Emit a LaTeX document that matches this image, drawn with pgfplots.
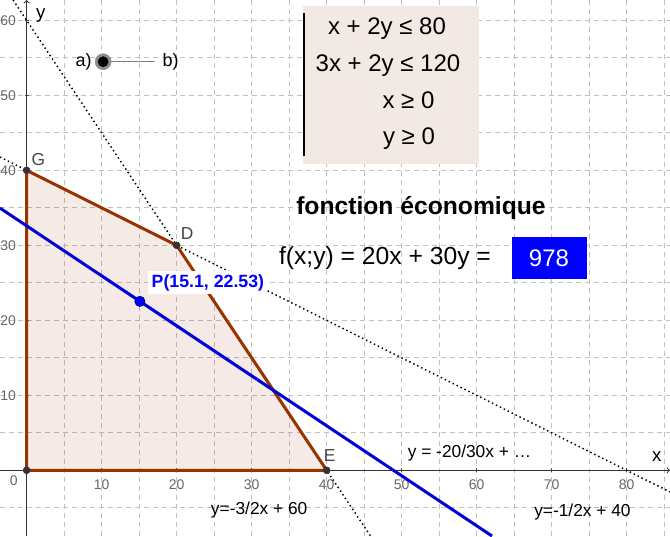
\documentclass[border=0pt]{standalone}
\usepackage{pgfplots}
\pgfplotsset{compat=1.18}
\usepackage{fontspec}
\setmainfont{Liberation Sans}
\definecolor{ggbrown}{RGB}{153,51,0}
\definecolor{ggblue}{RGB}{0,0,210}
\definecolor{gridc}{RGB}{192,192,192}
\definecolor{boxbg}{RGB}{242,232,228}
\definecolor{ptgray}{RGB}{51,51,51}
\definecolor{lblgray}{RGB}{68,68,68}
\begin{document}
\begin{tikzpicture}
\begin{axis}[
  scale only axis, width=502.5pt, height=402pt,
  xmin=-3.55, xmax=85.77, ymin=-8.76, ymax=62.71,
  axis lines=middle,
  axis line style={black!80, line width=0.75pt, ->},
  xtick={10,20,...,80}, ytick={10,20,...,60},
  minor xtick={-5,5,15,...,85}, minor ytick={-5,5,15,...,55},
  grid=both,
  major grid style={gridc, line width=0.75pt, dash pattern=on 3.75pt off 3pt},
  minor grid style={gridc, line width=0.75pt, dash pattern=on 3.75pt off 3pt},
  tick align=center, major tick length=3pt, minor tick length=0pt,
  tick style={black!70, line width=0.6pt},
  /pgf/number format/assume math mode=true,
  ticklabel style={font=\fontsize{10.5}{12}\selectfont, text=black!60},
  xticklabel style={anchor=north, inner sep=0pt, yshift=-5.5pt},
  yticklabel style={anchor=east, inner sep=0pt, xshift=-6.3pt},
  clip=true,
]
% feasible polygon
\addplot[draw=none, fill=ggbrown, fill opacity=0.1] coordinates {(0,0) (0,40) (20,30) (40,0)} -- cycle;
% dotted constraint lines
\addplot[black, line width=1.1pt, dash pattern=on 1.1pt off 2.2pt] coordinates {(-3.55,41.775) (85.77,-2.885)};
\addplot[black, line width=1.1pt, dash pattern=on 1.1pt off 2.2pt] coordinates {(-1.81,62.71) (45.84,-8.76)};
% polygon edges
\addplot[ggbrown, line width=2.25pt] coordinates {(0,0) (0,40) (20,30) (40,0) (0,0)};
% iso-profit line
\addplot[ggblue, line width=2.25pt] coordinates {(-3.55,34.967) (62.04,-8.76)};
% vertices
\addplot[only marks, mark=*, mark size=2.6pt, mark options={fill=ptgray, draw=ptgray}] coordinates {(0,0) (0,40) (20,30) (40,0)};
% point P
\addplot[only marks, mark=*, mark size=3.8pt, mark options={fill=blue, draw=blue!60!black, line width=0.6pt}] coordinates {(15.1,22.53)};
% slider
\addplot[black!50, line width=0.75pt] coordinates {(10.2,54.48) (17.1,54.48)};
\addplot[only marks, mark=*, mark size=6pt, mark options={fill=black!45, draw=black!45}] coordinates {(10.2,54.48)};
\addplot[only marks, mark=*, mark size=3.8pt, mark options={fill=black, draw=black}] coordinates {(10.2,54.48)};
\node[font=\fontsize{13.5}{15}\selectfont] at (axis cs:7.6,54.4) {a)};
\node[font=\fontsize{13.5}{15}\selectfont] at (axis cs:19.2,54.4) {b)};
% axis names
\node[font=\fontsize{14}{16}\selectfont] at (axis cs:84.0,1.8) {x};
\node[font=\fontsize{14}{16}\selectfont] at (axis cs:1.9,60.7) {y};
\node[font=\fontsize{10.5}{12}\selectfont, text=black!60] at (axis cs:-1.7,-1.43) {0};
% point labels
\node[font=\fontsize{13}{15}\selectfont, text=lblgray] at (axis cs:1.57,41.5) {G};
\node[font=\fontsize{13}{15}\selectfont, text=lblgray] at (axis cs:21.4,31.6) {D};
\node[font=\fontsize{13}{15}\selectfont, text=lblgray] at (axis cs:40.4,2.0) {E};
\node[fill=white, inner sep=2.5pt, font=\bfseries\fontsize{13.3}{15}\selectfont, text=blue] at (axis cs:24.17,25.0) {P(15.1, 22.53)};
% system box
\fill[boxbg] (axis cs:36.8,61.9) rectangle (axis cs:60.35,40.9);
\draw[black, line width=1.8pt] (axis cs:36.97,60.97) -- (axis cs:36.97,41.9);
\node[font=\fontsize{18}{20}\selectfont] at (axis cs:48.04,58.95) {x + 2y ≤ 80};
\node[font=\fontsize{18}{20}\selectfont] at (axis cs:48.17,53.95) {3x + 2y ≤ 120};
\node[font=\fontsize{18}{20}\selectfont] at (axis cs:50.9,49.37) {x ≥ 0};
\node[font=\fontsize{18}{20}\selectfont] at (axis cs:50.97,44.2) {y ≥ 0};
% objective
\node[font=\bfseries\fontsize{18.5}{20}\selectfont] at (axis cs:52.57,34.95) {fonction économique};
\node[font=\fontsize{18.5}{20}\selectfont] at (axis cs:47.77,28.3) {f(x;y) = 20x + 30y =};
\fill[blue] (axis cs:64.67,31.07) rectangle (axis cs:74.67,25.47);
\node[font=\fontsize{18}{20}\selectfont, text=white] at (axis cs:69.64,28.3) {978};
% equation labels
\node[font=\fontsize{13}{15}\selectfont] at (axis cs:31.0,-5.3) {y=-3/2x + 60};
\node[font=\fontsize{13}{15}\selectfont] at (axis cs:74.1,-5.55) {y=-1/2x + 40};
\node[font=\fontsize{13}{15}\selectfont] at (axis cs:59.04,2.3) {y = -20/30x + …};
\end{axis}
\pgfresetboundingbox
\path[use as bounding box] (current axis.south west) rectangle (current axis.north east);
\end{tikzpicture}
\end{document}
